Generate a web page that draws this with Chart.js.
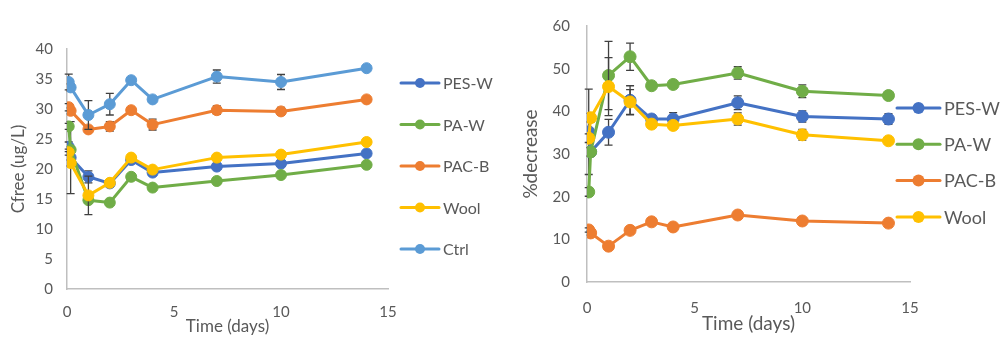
<!DOCTYPE html>
<html lang="en">
<head>
<meta charset="UTF-8">
<title>Cfree and %decrease over time</title>
<script src="https://cdn.jsdelivr.net/npm/chart.js"></script>
<style>
    body { margin: 0; background: #fff; }
    #wrap { position: relative; width: 1002px; height: 339px; }
    #cfreeChart { position: absolute; left: 0; top: 0; }
    #decreaseChart { position: absolute; left: 501px; top: 0; }
</style>
</head>
<body>
<div id="wrap">
    <canvas id="cfreeChart" width="501" height="339"></canvas>
    <canvas id="decreaseChart" width="501" height="339"></canvas>
</div>

<script>
    // sampling times (days)
    const days = [0.08, 0.17, 1, 2, 3, 4, 7, 10, 14];

    const seriesNames = ['PES-W', 'PA-W', 'PAC-B', 'Wool', 'Ctrl'];
    const seriesColors = ['#4472C4', '#70AD47', '#ED7D31', '#FFC000', '#5B9BD5'];

    // free concentration, ug/L
    const cfreePesW = [23.7, 21.9, 18.7, 17.6, 21.5, 19.4, 20.4, 20.9, 22.6];
    const cfreePaW  = [27.1, 23.2, 14.8, 14.4, 18.7, 16.9, 18.0, 19.0, 20.7];
    const cfreePacB = [30.3, 29.7, 26.6, 27.1, 29.8, 27.4, 29.8, 29.6, 31.6];
    const cfreeWool = [22.8, 21.0, 15.6, 17.7, 21.9, 19.9, 21.9, 22.4, 24.5];
    const cfreeCtrl = [34.5, 33.6, 29.0, 30.8, 34.8, 31.6, 35.4, 34.5, 36.8];

    // standard deviations for the Cfree series
    const cfreePesWErr = [0.8, 6.0, 1.0, 0.6, 0.4, 0.5, 0.4, 0.4, 0.3];
    const cfreePaWErr  = [0.5, 0.5, 0.5, 0.4, 0.3, 0.3, 0.3, 0.3, 0.3];
    const cfreePacBErr = [0.6, 0.5, 0.4, 0.8, 0.4, 0.9, 0.7, 0.65, 0.3];
    const cfreeWoolErr = [0.5, 0.5, 3.2, 0.4, 0.3, 0.3, 0.3, 0.3, 0.3];
    const cfreeCtrlErr = [1.3, 0.6, 2.4, 1.8, 0.4, 0.4, 1.1, 1.25, 0.4];

    // decrease relative to control, %
    const pctPesW = [35.2, 30.5, 35.1, 42.6, 38.2, 38.2, 42.0, 38.8, 38.2];
    const pctPaW  = [21.1, 30.5, 48.4, 52.8, 46.0, 46.3, 49.0, 44.7, 43.7];
    const pctPacB = [12.2, 11.5, 8.4, 12.1, 14.1, 12.9, 15.7, 14.3, 13.8];
    const pctWool = [33.7, 38.5, 45.8, 42.2, 37.0, 36.7, 38.2, 34.5, 33.1];

    const pctPesWErr = [10.0, 1.0, 3.0, 3.4, 1.0, 1.5, 1.6, 1.3, 1.25];
    const pctPaWErr  = [1.0, 1.0, 8.0, 3.2, 0.8, 0.8, 1.45, 1.5, 0.5];
    const pctPacBErr = [0.5, 0.5, 0.5, 0.5, 0.5, 0.5, 0.5, 0.5, 0.5];
    const pctWoolErr = [1.0, 1.0, 6.8, 2.9, 0.8, 0.8, 1.45, 1.25, 0.5];

    const textColor = '#595959';
    const axisColor = '#BFBFBF';
    const fontFamily = 'Lato, "Liberation Sans", sans-serif';

    // vertical error bars, drawn just before each series so its markers cover them
    const errorBarPlugin = {
        id: 'errorBars',
        beforeDatasetDraw(chart, args) {
            const ds = chart.data.datasets[args.index];
            if (!ds.errors) return;
            const xs = chart.scales.x, ys = chart.scales.y;
            const ctx = chart.ctx;
            ctx.save();
            ctx.strokeStyle = '#404040';
            ctx.lineWidth = 1.3;
            ds.data.forEach((pt, i) => {
                const e = ds.errors[i];
                if (!e) return;
                const px = xs.getPixelForValue(pt.x);
                const top = ys.getPixelForValue(pt.y + e);
                const bot = ys.getPixelForValue(pt.y - e);
                ctx.beginPath();
                ctx.moveTo(px, top); ctx.lineTo(px, bot);
                ctx.moveTo(px - 4, top); ctx.lineTo(px + 4, top);
                ctx.moveTo(px - 4, bot); ctx.lineTo(px + 4, bot);
                ctx.stroke();
            });
            ctx.restore();
        }
    };

    // legend on the right: line + marker + name, one row per series
    const seriesKeyPlugin = {
        id: 'seriesKey',
        afterDraw(chart, args, opts) {
            const ctx = chart.ctx;
            ctx.save();
            ctx.font = opts.size + 'px ' + fontFamily;
            ctx.textBaseline = 'middle';
            chart.data.datasets.forEach((ds, i) => {
                const y = opts.y + i * opts.gap;
                ctx.strokeStyle = ds.borderColor;
                ctx.lineWidth = 3;
                ctx.lineCap = 'round';
                ctx.beginPath();
                ctx.moveTo(opts.x, y);
                ctx.lineTo(opts.x + opts.len, y);
                ctx.stroke();
                ctx.fillStyle = ds.borderColor;
                ctx.beginPath();
                ctx.arc(opts.x + opts.len / 2, y, opts.dot, 0, Math.PI * 2);
                ctx.fill();
                ctx.fillStyle = textColor;
                ctx.fillText(ds.label, opts.x + opts.len + 4, y + 1);
            });
            ctx.restore();
        }
    };

    function buildChart(id, valueSets, errorSets, cfg) {
        const datasets = valueSets.map((vals, i) => ({
            label: seriesNames[i],
            data: days.map((d, k) => ({ x: d, y: vals[k] })),
            errors: errorSets[i],
            borderColor: seriesColors[i],
            backgroundColor: seriesColors[i],
            pointBackgroundColor: seriesColors[i],
            pointBorderColor: seriesColors[i],
            pointRadius: cfg.dot,
            pointBorderWidth: 1,
            borderWidth: 3,
            borderJoinStyle: 'round',
            tension: 0,
            order: valueSets.length - i
        }));

        return new Chart(document.getElementById(id), {
            type: 'line',
            data: { datasets: datasets },
            options: {
                responsive: false,
                animation: false,
                layout: { padding: cfg.padding },
                plugins: {
                    legend: { display: false },
                    tooltip: { enabled: false },
                    seriesKey: cfg.key
                },
                scales: {
                    x: {
                        type: 'linear',
                        min: 0, max: 15,
                        grid: { display: true, drawOnChartArea: false, drawTicks: false },
                        border: { color: axisColor, width: 1.5 },
                        ticks: { stepSize: 5, padding: cfg.xTickPad, color: textColor, font: { family: fontFamily, size: 15 } },
                        title: {
                            display: true, text: 'Time (days)', color: textColor,
                            font: { family: fontFamily, size: cfg.xTitleSize },
                            padding: { top: 0, bottom: cfg.xTitlePad }
                        },
                        afterFit: s => { s.height = cfg.xHeight; }
                    },
                    y: {
                        min: 0, max: cfg.yMax,
                        grid: { display: true, drawOnChartArea: false, drawTicks: false },
                        border: { color: axisColor, width: 1.5 },
                        ticks: { stepSize: cfg.yStep, padding: cfg.yTickPad, color: textColor, font: { family: fontFamily, size: 15 } },
                        title: {
                            display: true, text: cfg.yTitle, color: textColor,
                            font: { family: fontFamily, size: cfg.yTitleSize },
                            padding: { top: cfg.yTitlePad, bottom: 0 }
                        },
                        afterFit: s => { s.width = cfg.yWidth; }
                    }
                }
            },
            plugins: [errorBarPlugin, seriesKeyPlugin]
        });
    }

    buildChart('cfreeChart',
        [cfreePesW, cfreePaW, cfreePacB, cfreeWool, cfreeCtrl],
        [cfreePesWErr, cfreePaWErr, cfreePacBErr, cfreeWoolErr, cfreeCtrlErr],
        {
            padding: { left: 0, top: 49, right: 113, bottom: 0 },
            yMax: 40, yStep: 5, yTitle: 'Cfree (ug/L)',
            yWidth: 67, yTickPad: 14, yTitleSize: 17, yTitlePad: 8,
            xHeight: 50, xTickPad: 14, xTitleSize: 17, xTitlePad: 2,
            dot: 5.5,
            key: { x: 401, y: 83, gap: 41.5, len: 38, size: 16, dot: 5 }
        });

    buildChart('decreaseChart',
        [pctPesW, pctPaW, pctPacB, pctWool],
        [pctPesWErr, pctPaWErr, pctPacBErr, pctWoolErr],
        {
            padding: { left: 0, top: 17, right: 92, bottom: 0 },
            yMax: 60, yStep: 10, yTitle: '%decrease',
            yWidth: 86, yTickPad: 17, yTitleSize: 19, yTitlePad: 18,
            xHeight: 57, xTickPad: 17, xTitleSize: 19, xTitlePad: 4,
            dot: 6,
            key: { x: 396, y: 108, gap: 36.3, len: 43, size: 18, dot: 6 }
        });
</script>
</body>
</html>
